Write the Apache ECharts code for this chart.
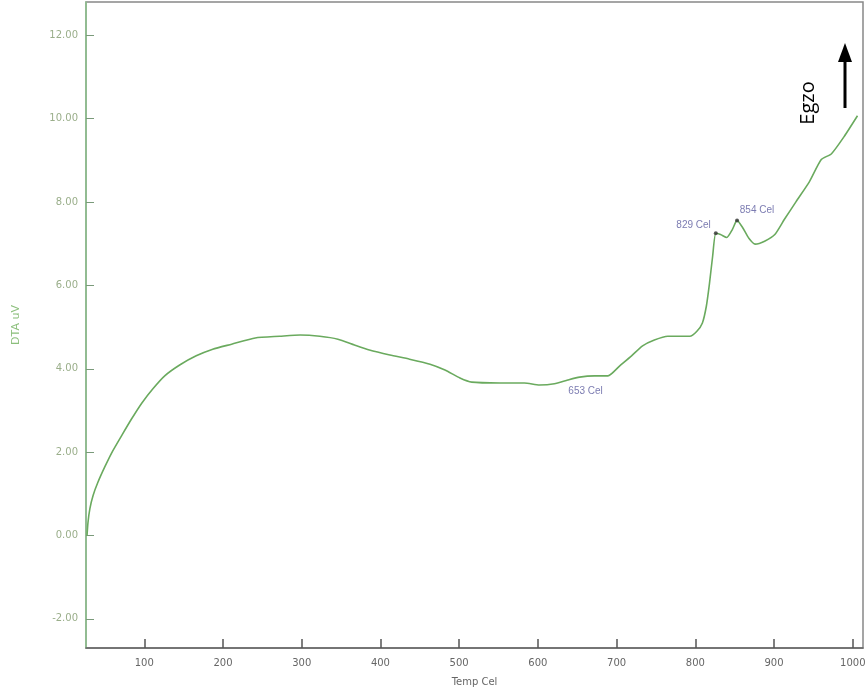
<!DOCTYPE html>
<html>
<head>
<meta charset="utf-8">
<script src="https://cdn.jsdelivr.net/npm/echarts@6/dist/echarts.min.js"></script>
<style>html,body{margin:0;padding:0;background:#fff}#c{width:867px;height:696px}</style>
</head>
<body>
<div id="c"></div>
<script>
// Temperature (Cel) and DTA signal (uV)
var temps = [27.3,28.5,31,35,41,50,60,72,84,97,111,126,145,166,187,211,241,272,298,323,346,367,386,412,437,463,482,501,516,552,583,602,621,638,653,672,689,704,719,733,748,765,793,802,809,814,818,822,826,832,840,847,853,860,868,876,888,901,913,928,945,960,973,989,1006];
var dta = [0.0,0.31,0.65,0.96,1.27,1.65,2.03,2.42,2.80,3.18,3.52,3.83,4.09,4.31,4.47,4.59,4.74,4.78,4.81,4.78,4.71,4.57,4.45,4.33,4.23,4.11,3.97,3.78,3.68,3.66,3.66,3.61,3.64,3.73,3.80,3.83,3.83,4.07,4.31,4.55,4.69,4.78,4.78,4.90,5.10,5.50,6.05,6.70,7.25,7.22,7.15,7.34,7.56,7.39,7.13,6.99,7.06,7.22,7.58,8.01,8.49,9.02,9.16,9.57,10.07];
var xTicks = [100,200,300,400,500,600,700,800,900,1000];
var yTicks = [-2,0,2,4,6,8,10,12];
var peakTemps = [653,826,853];
var peakVals = [3.80,7.25,7.56];
var peakLabels = ['653 Cel','829 Cel','854 Cel'];

var line = temps.map(function(t,i){return [t,dta[i]];});
var peaks = peakTemps.map(function(t,i){return [t,peakVals[i]];});
var labelPos = [
  {position:'bottom', offset:[6,4], symbolSize:0},
  {position:'left', offset:[2,-8], symbolSize:4},
  {position:'top', offset:[20,2], symbolSize:4}
];

var chart = echarts.init(document.getElementById('c'));
chart.setOption({
  animation:false,
  grid:{left:86,right:4,top:2,bottom:48,containLabel:false,outerBoundsMode:'none',
    show:true,borderColor:'#888',borderWidth:1.5,backgroundColor:'#fff'},
  xAxis:{
    type:'value',min:26,max:1013,
    name:'Temp Cel',nameLocation:'middle',nameGap:29,
    nameTextStyle:{color:'#666',fontSize:10,fontFamily:'DejaVu Sans'},
    axisLine:{show:true,onZero:false,lineStyle:{color:'#666',width:1.5}},
    axisTick:{show:true,inside:true,length:9,customValues:xTicks,lineStyle:{color:'#555',width:1.5}},
    axisLabel:{customValues:xTicks,color:'#666',fontSize:10,margin:10,fontFamily:'DejaVu Sans',
      formatter:function(v){return String(v);}},
    splitLine:{show:false}
  },
  yAxis:{
    type:'value',min:-2.7,max:12.8,
    name:'DTA uV',nameLocation:'middle',nameGap:64,nameRotate:90,
    nameTextStyle:{color:'#8cbf7c',fontSize:11,fontFamily:'DejaVu Sans'},
    axisLine:{show:true,onZero:false,lineStyle:{color:'#8cc48c',width:1.5}},
    axisTick:{show:true,inside:true,length:8,customValues:yTicks,lineStyle:{color:'#7a9a7a',width:1}},
    axisLabel:{customValues:yTicks,color:'#9aae8a',fontSize:10,margin:8,fontFamily:'DejaVu Sans',
      formatter:function(v){return v.toFixed(2);}},
    splitLine:{show:false}
  },
  series:[
    {type:'line',data:line,showSymbol:false,smooth:0.2,lineStyle:{color:'#6aaa5e',width:1.6},z:2},
    {type:'scatter',data:peaks.map(function(p,i){
        return {value:p,symbolSize:labelPos[i].symbolSize,
          label:{show:true,formatter:peakLabels[i],position:labelPos[i].position,offset:labelPos[i].offset}};
      }),
      itemStyle:{color:'#333'},
      label:{color:'#5a5a9e',fontSize:10,fontFamily:'Liberation Sans Narrow, Liberation Sans'},z:3}
  ],
  graphic:[
    {type:'text',x:808,y:103,rotation:Math.PI/2,
      style:{text:'Egzo',fill:'#000',font:'20px "Open Sans", "Liberation Sans"',align:'center',verticalAlign:'middle'}},
    {type:'line',shape:{x1:845,y1:108,x2:845,y2:58},style:{stroke:'#000',lineWidth:3}},
    {type:'polygon',shape:{points:[[838,62],[852,62],[845,43]]},style:{fill:'#000'}}
  ]
});
</script>
</body>
</html>
